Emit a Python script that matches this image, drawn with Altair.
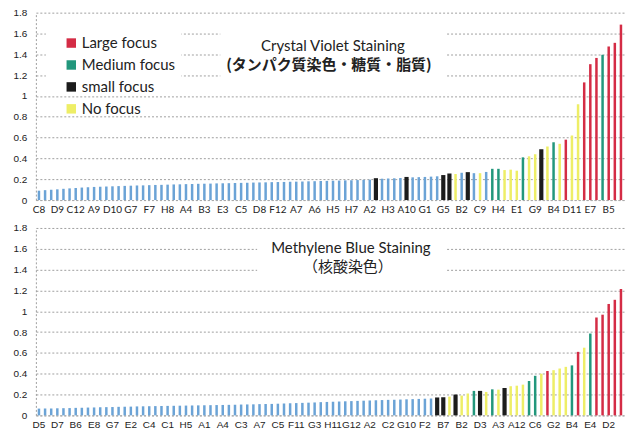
import altair as alt
import pandas as pd

# ---------------- data ----------------
ROWS = "ABCDEFGH"
COLS = list(range(1, 13))

# tick labels shown under every third bar (left to right)
top_shown = ["C8", "D9", "C12", "A9", "D10", "G7", "F7", "H8", "A4", "B3", "E3", "C5",
             "D8", "F12", "A7", "A6", "H5", "H7", "A2", "H3", "A10", "G1", "G5", "B2",
             "C9", "H4", "E1", "G9", "B4", "D11", "E7", "B5"]
bottom_shown = ["D5", "D7", "B6", "E8", "G7", "E2", "C4", "C1", "H5", "A1", "A4", "C3",
                "A7", "C5", "F11", "G3", "H11", "G12", "A2", "C2", "G10", "F2", "B7", "B2",
                "D3", "A3", "A12", "C6", "G2", "B4", "E4", "D2"]

# absorbance values, sorted as in the picture
top_values = [0.090, 0.095, 0.100, 0.103, 0.108, 0.112, 0.116, 0.120, 0.123, 0.126,
              0.128, 0.130, 0.132, 0.134, 0.136, 0.138, 0.140, 0.141, 0.143, 0.145,
              0.146, 0.148, 0.150, 0.151, 0.153, 0.154, 0.156, 0.157, 0.158, 0.160,
              0.161, 0.162, 0.164, 0.165, 0.166, 0.168, 0.169, 0.170, 0.172, 0.173,
              0.174, 0.176, 0.177, 0.178, 0.180, 0.181, 0.183, 0.184, 0.186, 0.187,
              0.189, 0.190, 0.192, 0.194, 0.196, 0.210, 0.205, 0.207, 0.209, 0.212,
              0.222, 0.218, 0.220, 0.222, 0.225, 0.228, 0.240, 0.255, 0.250, 0.262,
              0.268, 0.258, 0.258, 0.270, 0.300, 0.300, 0.288, 0.292, 0.282, 0.410,
              0.420, 0.440, 0.488, 0.515, 0.555, 0.540, 0.580, 0.620, 0.920, 1.130,
              1.305, 1.365, 1.395, 1.475, 1.510, 1.685]
bottom_values = [0.065, 0.066, 0.067, 0.068, 0.069, 0.070, 0.072, 0.073, 0.075, 0.076,
                 0.078, 0.079, 0.080, 0.082, 0.083, 0.084, 0.086, 0.087, 0.088, 0.089,
                 0.090, 0.091, 0.092, 0.093, 0.094, 0.095, 0.096, 0.097, 0.098, 0.099,
                 0.100, 0.101, 0.102, 0.104, 0.105, 0.106, 0.108, 0.109, 0.110, 0.112,
                 0.114, 0.116, 0.118, 0.120, 0.122, 0.124, 0.127, 0.129, 0.131, 0.133,
                 0.135, 0.137, 0.139, 0.141, 0.143, 0.145, 0.147, 0.149, 0.150, 0.152,
                 0.154, 0.156, 0.158, 0.160, 0.162, 0.172, 0.174, 0.180, 0.200, 0.190,
                 0.210, 0.235, 0.235, 0.225, 0.250, 0.247, 0.263, 0.280, 0.285, 0.295,
                 0.330, 0.380, 0.400, 0.425, 0.434, 0.450, 0.466, 0.480, 0.610, 0.650,
                 0.786, 0.940, 0.967, 1.070, 1.110, 1.214]

# focus class per bar: N none, L large, M medium, S small, Y no focus
top_codes = ("NNNNNNNNNN" "NNNNNNNNNN" "NNNNNNNNNN" "NNNNNNNNNN" "NNNNNNNNNN" "NNNNN"
             "S" "NNNN" "S" "NNNNN" "SS" "Y" "N" "S" "N" "Y" "N" "MM" "YYY" "M" "YY"
             "S" "Y" "M" "Y" "L" "YY" "LLL" "M" "LLL")
bottom_codes = ("NNNNNNNNNN" "NNNNNNNNNN" "NNNNNNNNNN" "NNNNNNNNNN" "NNNNNNNNNN"
                "NNNNNNNNNN" "NNNNN"
                "SS" "Y" "S" "YY" "M" "S" "Y" "M" "Y" "S" "YYY" "MM" "Y" "L" "YYY"
                "M" "L" "Y" "M" "LLLLL")

class_names = {"L": "Large focus", "M": "Medium focus", "S": "small focus",
               "Y": "No focus", "N": "untested"}
legend_names = ["Large focus", "Medium focus", "small focus", "No focus"]
class_domain = legend_names + ["untested"]
class_colors = ["#d42c45", "#22977c", "#1c1c1c", "#eeee66", "#6ba3d6"]

top_title = ["Crystal Violet Staining", "(タンパク質染色・糖質・脂質)"]
bottom_title = ["Methylene Blue Staining", "（核酸染色）"]

y_ticks = [0, 0.2, 0.4, 0.6, 0.8, 1.0, 1.2, 1.4, 1.6, 1.8]

W, H = 590, 188


def well_names(shown):
    all_wells = [r + str(c) for r in ROWS for c in COLS]
    rest = [w for w in all_wells if w not in shown]
    names, k = [], 0
    for i in range(len(shown) * 3):
        if i % 3 == 0:
            names.append(shown[i // 3])
        else:
            names.append(rest[k])
            k += 1
    return names


def panel(shown, values, codes, titles, xfont, legend, boxes, tpos, weights):
    df = pd.DataFrame({
        "well": well_names(shown),
        "od": values,
        "cls": [class_names[c] for c in codes],
    })
    if legend:
        leg = alt.Legend(values=legend_names, orient="none", legendX=28, legendY=23,
                         title=None, symbolType="square", symbolSize=90,
                         symbolStrokeWidth=0, labelFont="Lato", labelFontSize=15,
                         labelColor="#222", rowPadding=6, padding=0, labelOffset=3)
    else:
        leg = None
    bars = alt.Chart(df).mark_bar().encode(
        x=alt.X("well:N", sort=None,
                scale=alt.Scale(paddingInner=0, paddingOuter=0),
                axis=alt.Axis(values=shown, labelAngle=0, labelOverlap=False,
                              ticks=False, domainColor="#aaa", domainDash=[2, 2],
                              labelFont=xfont, labelFontSize=10, labelPadding=4,
                              labelColor="#222", title=None)),
        y=alt.Y("od:Q", scale=alt.Scale(domain=[0, 1.8], nice=False),
                axis=alt.Axis(values=y_ticks, format="~g", grid=True,
                              gridColor="#a0a0a0", gridDash=[2, 2],
                              domainColor="#a0a0a0", domainDash=[2, 2],
                              ticks=False, labelPadding=9,
                              labelFont="Liberation Sans", labelFontSize=10,
                              labelColor="#222", title=None)),
        color=alt.Color("cls:N", scale=alt.Scale(domain=class_domain, range=class_colors),
                        legend=leg),
        size=alt.condition("datum.cls == 'small focus'", alt.value(4.2),
                           alt.value(2.5)),
    )
    layers = [bars]
    one = pd.DataFrame({"k": [0]})
    for (x0, x1, y0, y1) in boxes:
        layers.append(alt.Chart(one).mark_rect(color="white").encode(
            x=alt.value(x0), x2=alt.value(x1), y=alt.value(y0), y2=alt.value(y1)))
    fonts = [("Lato", "alphabetic"), ("Noto Sans CJK JP", "middle")]
    for text, (tx, ty), (fnt, bl), wt in zip(titles, tpos, fonts, weights):
        layers.append(alt.Chart(pd.DataFrame({"t": [text]})).mark_text(
            font=fnt, fontSize=15, fontWeight=wt, align="center", baseline=bl,
            color="#222").encode(x=alt.value(tx), y=alt.value(ty), text="t:N"))
    return alt.layer(*layers).properties(width=W, height=H)


top = panel(top_shown, top_values, top_codes, top_title, "Lato", True,
            [(10, 146, 10, 73), (185, 412, 10, 73)], [(298, 38), (294, 53)],
            ["normal", "bold"])
bottom = panel(bottom_shown, bottom_values, bottom_codes, bottom_title,
               "Liberation Sans", False,
               [(222, 412, 10, 52)], [(316, 25), (313, 39)],
               ["normal", "normal"])

chart = alt.vconcat(top, bottom, spacing=7).resolve_scale(
    color="independent"
).properties(
    padding={"left": 12, "top": 6, "right": 4, "bottom": 0},
    background="white",
).configure_view(stroke="transparent")

chart.save("out.html", embed_options={"renderer": "svg", "actions": False})
